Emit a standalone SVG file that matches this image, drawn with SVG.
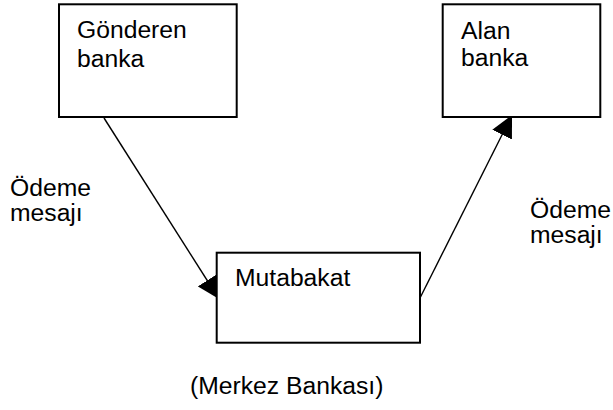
<svg xmlns="http://www.w3.org/2000/svg" width="613" height="410" viewBox="0 0 613 410">
  <style>
    .box { fill: #ffffff; stroke: #000000; stroke-width: 2; }
    .lbl { font-family: "Liberation Sans", Arial, sans-serif; font-size: 24.7px; fill: #000000; }
    .conn { stroke: #000000; stroke-width: 1.4; fill: none; marker-end: url(#head); }
  </style>
  <defs>
    <marker id="head" markerUnits="userSpaceOnUse" markerWidth="22" markerHeight="22" refX="22" refY="11" orient="auto">
      <path d="M0,0 L22,11 L0,22 z" fill="#000000"/>
    </marker>
  </defs>

  <rect width="613" height="410" fill="#ffffff"/>

  <!-- payment message flows -->
  <g id="connectors">
    <line class="conn" x1="104" y1="118" x2="219" y2="299"/>
    <line class="conn" x1="420.5" y1="297" x2="512" y2="115"/>
  </g>

  <g id="sender">
    <rect class="box" x="59" y="4.3" width="177.7" height="112.7"/>
    <text class="lbl" x="77" y="38">Gönderen</text>
    <text class="lbl" x="77" y="67">banka</text>
  </g>

  <g id="receiver">
    <rect class="box" x="442.7" y="4.3" width="157.6" height="112.7"/>
    <text class="lbl" x="461" y="39">Alan</text>
    <text class="lbl" x="461" y="66">banka</text>
  </g>

  <g id="settlement">
    <rect class="box" x="216.7" y="252.7" width="203.3" height="90"/>
    <text class="lbl" x="235" y="285.7">Mutabakat</text>
  </g>

  <g id="label-left">
    <text class="lbl" x="10" y="195.5">Ödeme</text>
    <text class="lbl" x="10" y="221">mesajı</text>
  </g>

  <g id="label-right">
    <text class="lbl" x="530" y="217.5">Ödeme</text>
    <text class="lbl" x="530" y="243">mesajı</text>
  </g>

  <g id="central-bank">
    <text class="lbl" x="190" y="394">(Merkez Bankası)</text>
  </g>
</svg>
